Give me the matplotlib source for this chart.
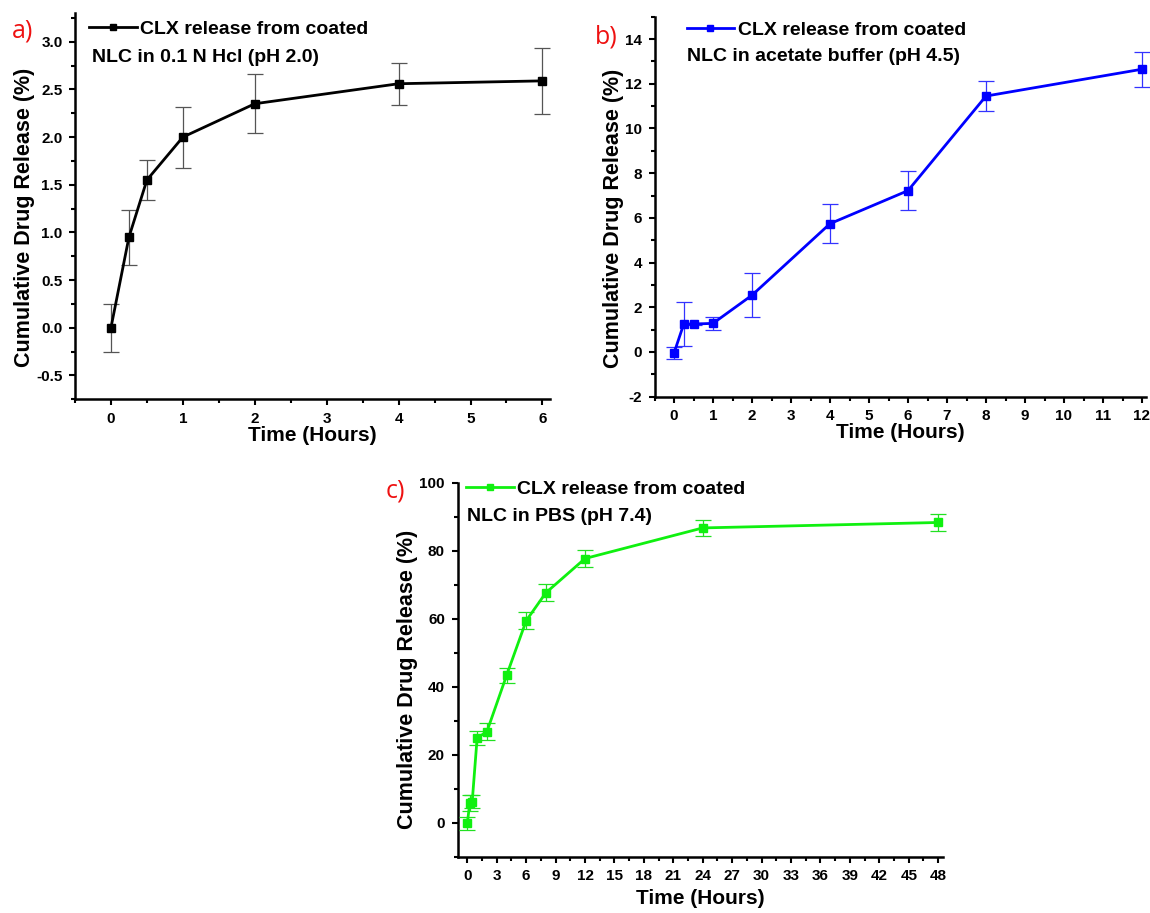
import matplotlib
matplotlib.use("Agg")
import matplotlib.pyplot as plt
from matplotlib.ticker import MultipleLocator, FormatStrFormatter

plt.rcParams['font.family'] = ['Liberation Sans', 'DejaVu Sans']
plt.rcParams['font.weight'] = 'bold'
plt.rcParams['axes.labelweight'] = 'bold'
plt.rcParams['axes.unicode_minus'] = False

# release in 0.1 N HCl (pH 2.0)
time_a = [0, 0.25, 0.5, 1, 2, 4, 6]
release_a = [0.0, 0.95, 1.55, 2.0, 2.35, 2.56, 2.59]
err_a = [0.25, 0.29, 0.21, 0.32, 0.31, 0.22, 0.35]

# release in acetate buffer (pH 4.5)
time_b = [0, 0.25, 0.5, 1, 2, 4, 6, 8, 12]
release_b = [-0.05, 1.25, 1.25, 1.28, 2.54, 5.74, 7.22, 11.45, 12.65]
err_b = [0.27, 1.0, 0.05, 0.3, 0.98, 0.87, 0.87, 0.66, 0.79]

# release in PBS (pH 7.4)
time_c = [0, 0.25, 0.5, 1, 2, 4, 6, 8, 12, 24, 48]
release_c = [-0.2, 5.8, 6.2, 24.9, 26.8, 43.3, 59.4, 67.6, 77.7, 86.7, 88.3]
err_c = [2.0, 2.3, 2.0, 2.0, 2.5, 2.1, 2.5, 2.5, 2.5, 2.3, 2.4]

legend_first = "CLX release from coated"
medium_a = "NLC in 0.1 N Hcl (pH 2.0)"
medium_b = "NLC in acetate buffer (pH 4.5)"
medium_c = "NLC in PBS (pH 7.4)"

W, H = 1150, 913
fig = plt.figure(figsize=(W / 100, H / 100), dpi=100)


def px_axes(x0, x1, ytop, ybot):
    # axes box given in pixels from the top-left corner
    return fig.add_axes([x0 / W, 1 - ybot / H, (x1 - x0) / W, (ybot - ytop) / H])


def style(ax, xmaj, xmin, ymaj, ymin, ylab_y, xpad=0):
    for s in ['top', 'right']:
        ax.spines[s].set_visible(False)
    for s in ['left', 'bottom']:
        ax.spines[s].set_linewidth(1.8)
    ax.xaxis.set_major_locator(MultipleLocator(xmaj))
    ax.xaxis.set_minor_locator(MultipleLocator(xmin))
    ax.yaxis.set_major_locator(MultipleLocator(ymaj))
    ax.yaxis.set_minor_locator(MultipleLocator(ymin))
    ax.tick_params(which='major', direction='out', length=4.5, width=1.5,
                   labelsize=11, pad=4.5)
    ax.tick_params(which='minor', direction='out', length=3, width=1.5)
    ax.set_xlabel('Time (Hours)', fontsize=15, labelpad=xpad)
    ax.set_ylabel('Cumulative Drug Release (%)', fontsize=15.5, labelpad=1)
    ax.yaxis.label.set_y(ylab_y)


def draw(ax, t, y, e, color, ecolor, label_xy, second_xy, second_text):
    eb = ax.errorbar(t, y, yerr=e, color=color, lw=2, marker='s', ms=6,
                     ecolor=ecolor, elinewidth=0.9, capsize=5.5, capthick=0.9,
                     clip_on=False, zorder=3)
    ax.legend(handles=[eb[0]], labels=[legend_first], loc='center left',
              bbox_to_anchor=(label_xy[0] / W, 1 - label_xy[1] / H),
              bbox_transform=fig.transFigure, frameon=False, fontsize=14,
              borderpad=0, borderaxespad=0, handlelength=2.45,
              handletextpad=0.17, markerscale=0.7)
    fig.text(second_xy[0] / W, 1 - second_xy[1] / H, second_text,
             fontsize=14, ha='left', va='baseline')


def panel_tag(x, y, s):
    fig.text(x / W, 1 - y / H, s, fontsize=18, color='#ee1111',
             family='Open Sans', weight='normal', ha='left', va='baseline')


# a) pH 2.0
ax_a = px_axes(75, 549.6, 13.2, 399.2)
draw(ax_a, time_a, release_a, err_a, 'black', '#555555',
     (89.3, 29.3), (91.7, 61.7), medium_a)
style(ax_a, 1, 0.5, 0.5, 0.25, 0.47)
ax_a.set_xlim(-0.5, 6.1)
ax_a.set_ylim(-0.75, 3.3)
ax_a.yaxis.set_major_formatter(FormatStrFormatter('%.1f'))
panel_tag(11.5, 37.5, 'a)')

# b) pH 4.5
ax_b = px_axes(654.5, 1145.9, 16.7, 396.7)
draw(ax_b, time_b, release_b, err_b, '#0000ff', '#3333ff',
     (686.6, 29.8), (686.6, 61.1), medium_b)
style(ax_b, 1, 0.5, 2, 1, 0.47)
ax_b.set_xlim(-0.5, 12.1)
ax_b.set_ylim(-2, 15)
panel_tag(594.5, 43.4, 'b)')

# c) pH 7.4
ax_c = px_axes(457.5, 943.1, 482.7, 856.7)
draw(ax_c, time_c, release_c, err_c, '#10f010', '#22e022',
     (466.0, 489.3), (467.3, 520.7), medium_c)
style(ax_c, 3, 1.5, 20, 10, 0.475, xpad=4)
ax_c.set_xlim(-1, 48.5)
ax_c.set_ylim(-10, 100)
panel_tag(385.5, 497.5, 'c)')

fig.savefig('out.png', dpi=100)
